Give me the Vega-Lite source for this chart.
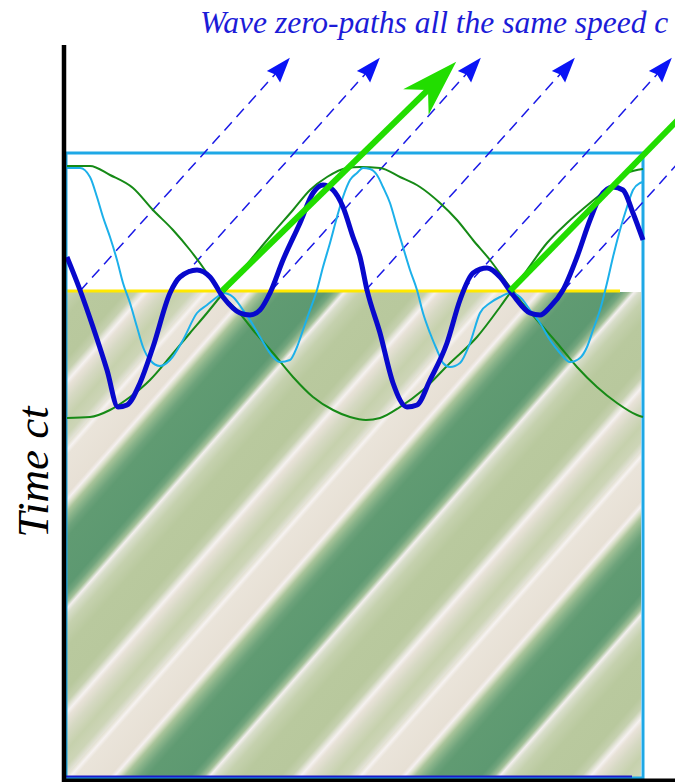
{
  "$schema": "https://vega.github.io/schema/vega-lite/v6.json",
  "width": 575,
  "height": 486,
  "autosize": {"type": "none"},
  "padding": {"left": 66, "top": 292, "right": 34, "bottom": 4},
  "background": "white",
  "config": {"view": {"stroke": null}},
  "datasets": {
    "bands": [
      {"b":1,"t":0,"x":-582,"x2":-290},{"b":1,"t":486,"x":-155.7,"x2":136.3},
      {"b":2,"t":0,"x":-292,"x2":0},{"b":2,"t":486,"x":134.3,"x2":426.3},
      {"b":3,"t":0,"x":-2,"x2":290},{"b":3,"t":486,"x":424.3,"x2":716.3},
      {"b":4,"t":0,"x":288,"x2":580},{"b":4,"t":486,"x":714.3,"x2":1006.3}
    ],
    "blue": [
      {"x":1,"t":521},{"x":14,"t":488},{"x":27,"t":451},{"x":41,"t":408},{"x":52,"t":371},{"x":61,"t":373},
      {"x":74,"t":395},{"x":87,"t":431},{"x":104,"t":485},{"x":114,"t":501},{"x":131,"t":508},{"x":144,"t":501},
      {"x":157,"t":481},{"x":174,"t":465},{"x":184,"t":463},{"x":194,"t":468},{"x":204,"t":485},{"x":217,"t":518},
      {"x":234,"t":555},{"x":247,"t":585},{"x":257,"t":593},{"x":267,"t":588},{"x":277,"t":571},{"x":287,"t":541},
      {"x":294,"t":521},{"x":301,"t":488},{"x":314,"t":445},{"x":327,"t":395},{"x":341,"t":371},{"x":351,"t":373},
      {"x":364,"t":398},{"x":381,"t":435},{"x":394,"t":478},{"x":407,"t":505},{"x":421,"t":510},{"x":434,"t":501},
      {"x":447,"t":483},{"x":464,"t":465},{"x":474,"t":463},{"x":484,"t":471},{"x":497,"t":488},{"x":511,"t":521},
      {"x":524,"t":558},{"x":534,"t":581},{"x":547,"t":591},{"x":557,"t":588},{"x":567,"t":565},{"x":577,"t":538}
    ],
    "cyan": [
      {"x":1,"t":610},{"x":14,"t":610},{"x":24,"t":601},{"x":31,"t":581},{"x":37,"t":561},{"x":44,"t":541},
      {"x":51,"t":518},{"x":57,"t":495},{"x":64,"t":475},{"x":71,"t":451},{"x":77,"t":431},{"x":84,"t":418},
      {"x":94,"t":412},{"x":104,"t":418},{"x":117,"t":438},{"x":131,"t":465},{"x":141,"t":473},{"x":151,"t":481},
      {"x":157,"t":485},{"x":167,"t":481},{"x":177,"t":468},{"x":184,"t":458},{"x":194,"t":441},{"x":207,"t":421},
      {"x":214,"t":416},{"x":224,"t":418},{"x":231,"t":431},{"x":237,"t":448},{"x":244,"t":468},{"x":251,"t":488},
      {"x":257,"t":511},{"x":264,"t":535},{"x":271,"t":561},{"x":277,"t":581},{"x":284,"t":598},{"x":291,"t":605},
      {"x":297,"t":610},{"x":304,"t":609},{"x":311,"t":603},{"x":317,"t":591},{"x":324,"t":575},{"x":331,"t":551},
      {"x":337,"t":531},{"x":344,"t":508},{"x":351,"t":488},{"x":357,"t":465},{"x":364,"t":445},{"x":371,"t":428},
      {"x":377,"t":415},{"x":384,"t":411},{"x":394,"t":415},{"x":404,"t":435},{"x":414,"t":465},{"x":424,"t":475},
      {"x":434,"t":481},{"x":444,"t":485},{"x":454,"t":481},{"x":464,"t":468},{"x":474,"t":455},{"x":484,"t":438},
      {"x":494,"t":425},{"x":504,"t":416},{"x":514,"t":420},{"x":521,"t":431},{"x":527,"t":448},{"x":534,"t":468},
      {"x":541,"t":495},{"x":547,"t":521},{"x":554,"t":548},{"x":561,"t":571},{"x":567,"t":588},{"x":574,"t":595},
      {"x":577,"t":596}
    ],
    "env": [
      {"id":1,"x":1,"t":612},{"id":1,"x":24,"t":612},{"id":1,"x":44,"t":603},{"id":1,"x":67,"t":590},
      {"id":1,"x":87,"t":568},{"id":1,"x":107,"t":548},{"id":1,"x":124,"t":528},{"id":1,"x":141,"t":505},
      {"id":1,"x":154,"t":485},{"id":1,"x":171,"t":468},{"id":1,"x":187,"t":448},{"id":1,"x":207,"t":425},
      {"id":1,"x":227,"t":401},{"id":1,"x":247,"t":381},{"id":1,"x":267,"t":368},{"id":1,"x":284,"t":361},
      {"id":1,"x":300,"t":358},{"id":1,"x":314,"t":360},{"id":1,"x":334,"t":371},{"id":1,"x":357,"t":388},
      {"id":1,"x":384,"t":415},{"id":1,"x":411,"t":441},{"id":1,"x":434,"t":471},{"id":1,"x":444,"t":485},
      {"id":1,"x":461,"t":508},{"id":1,"x":481,"t":535},{"id":1,"x":501,"t":555},{"id":1,"x":524,"t":575},
      {"id":1,"x":544,"t":591},{"id":1,"x":561,"t":605},{"id":1,"x":577,"t":609},
      {"id":2,"x":1,"t":360},{"id":2,"x":24,"t":361},{"id":2,"x":44,"t":368},{"id":2,"x":64,"t":381},
      {"id":2,"x":84,"t":398},{"id":2,"x":104,"t":421},{"id":2,"x":124,"t":445},{"id":2,"x":141,"t":465},
      {"id":2,"x":154,"t":481},{"id":2,"x":171,"t":501},{"id":2,"x":187,"t":521},{"id":2,"x":207,"t":545},
      {"id":2,"x":227,"t":568},{"id":2,"x":244,"t":588},{"id":2,"x":261,"t":601},{"id":2,"x":281,"t":610},
      {"id":2,"x":294,"t":611},{"id":2,"x":314,"t":610},{"id":2,"x":334,"t":601},{"id":2,"x":354,"t":591},
      {"id":2,"x":374,"t":575},{"id":2,"x":391,"t":558},{"id":2,"x":407,"t":538},{"id":2,"x":424,"t":518},
      {"id":2,"x":441,"t":495},{"id":2,"x":454,"t":478},{"id":2,"x":471,"t":458},{"id":2,"x":491,"t":435},
      {"id":2,"x":511,"t":411},{"id":2,"x":531,"t":391},{"id":2,"x":551,"t":375},{"id":2,"x":571,"t":363},
      {"id":2,"x":577,"t":361}
    ],
    "dash": [
      {"id":1,"x":14,"t":487},{"id":1,"x":220,"t":716},
      {"id":2,"x":104,"t":487},{"id":2,"x":310,"t":716},
      {"id":3,"x":205,"t":487},{"id":3,"x":411,"t":716},
      {"id":4,"x":299,"t":487},{"id":4,"x":505,"t":716},
      {"id":5,"x":396,"t":487},{"id":5,"x":602,"t":716},
      {"id":6,"x":497,"t":487},{"id":6,"x":703,"t":716}
    ],
    "heads": [
      {"x":215,"t":710},{"x":305,"t":710},{"x":406,"t":710},{"x":500,"t":710},{"x":597,"t":710}
    ],
    "arrows": [
      {"id":1,"x":156,"t":487},{"id":1,"x":369,"t":695},
      {"id":2,"x":444,"t":487},{"id":2,"x":700,"t":748}
    ]
  },
  "encoding": {
    "x": {"field": "x", "type": "quantitative", "scale": {"domain": [0, 575], "nice": false, "zero": false}, "axis": null},
    "y": {"field": "t", "type": "quantitative", "scale": {"domain": [0, 486], "nice": false, "zero": false}, "axis": null}
  },
  "layer": [
    {
      "data": {"name": "bands"},
      "mark": {"type": "area", "orient": "horizontal", "clip": true, "interpolate": "linear",
        "color": {"gradient": "linear", "x1": 0, "y1": 1, "x2": 0.3006, "y2": 1.1784,
          "stops": [
            {"offset": 0, "color": "#e2e0d0"},
            {"offset": 0.0171, "color": "#f6f2f1"},
            {"offset": 0.0342, "color": "#eae4da"},
            {"offset": 0.1507, "color": "#e7e0d5"},
            {"offset": 0.1678, "color": "#f5f0f0"},
            {"offset": 0.1849, "color": "#d6ddc4"},
            {"offset": 0.2021, "color": "#a9c49a"},
            {"offset": 0.2260, "color": "#8ab48a"},
            {"offset": 0.2534, "color": "#6ea37b"},
            {"offset": 0.2808, "color": "#609b72"},
            {"offset": 0.4281, "color": "#5d9971"},
            {"offset": 0.4521, "color": "#72a57d"},
            {"offset": 0.4760, "color": "#a4c199"},
            {"offset": 0.4932, "color": "#f3efee"},
            {"offset": 0.5103, "color": "#d9decb"},
            {"offset": 0.5479, "color": "#c5d1ae"},
            {"offset": 0.6096, "color": "#b9c99e"},
            {"offset": 0.7363, "color": "#b8c89d"},
            {"offset": 0.7740, "color": "#c6d1b0"},
            {"offset": 0.7911, "color": "#e2e3d6"},
            {"offset": 0.8048, "color": "#f5f1f0"},
            {"offset": 0.8219, "color": "#e8e2d8"},
            {"offset": 0.8630, "color": "#d6d9c3"},
            {"offset": 0.9178, "color": "#c6d1ad"},
            {"offset": 0.9658, "color": "#cdd5b7"},
            {"offset": 0.9863, "color": "#dedfd0"},
            {"offset": 1, "color": "#ebe8e2"}
          ]}},
      "encoding": {
        "x": {"field": "x", "type": "quantitative", "stack": null, "scale": {"domain": [0, 575], "nice": false, "zero": false}, "axis": null},
        "x2": {"field": "x2"},
        "detail": {"field": "b", "type": "nominal"}
      }
    },
    {
      "data": {"values": [{"x": 0, "t": 487}, {"x": 554, "t": 487}]},
      "mark": {"type": "line", "color": "#ffe800", "strokeWidth": 3},
      "encoding": {}
    },
    {
      "data": {"values": [{"x": 0, "x2": 577, "t": 0, "t2": 625}]},
      "mark": {"type": "rect", "filled": false, "stroke": "#1ea8e6", "strokeWidth": 3},
      "encoding": {"x2": {"field": "x2"}, "y2": {"field": "t2"}}
    },
    {
      "data": {"name": "dash"},
      "mark": {"type": "line", "color": "#1a1ae6", "strokeWidth": 1.5, "strokeDash": [11, 7]},
      "encoding": {"detail": {"field": "id", "type": "nominal"}}
    },
    {
      "data": {"name": "env"},
      "mark": {"type": "line", "color": "#168a16", "strokeWidth": 2, "interpolate": "monotone"},
      "encoding": {"detail": {"field": "id", "type": "nominal"}}
    },
    {
      "data": {"name": "cyan"},
      "mark": {"type": "line", "color": "#1cb0ea", "strokeWidth": 2, "interpolate": "monotone"},
      "encoding": {}
    },
    {
      "data": {"name": "blue"},
      "mark": {"type": "line", "color": "#0808cc", "strokeWidth": 5, "interpolate": "monotone"},
      "encoding": {}
    },
    {
      "data": {"name": "arrows"},
      "mark": {"type": "line", "color": "#22dd00", "strokeWidth": 6},
      "encoding": {"detail": {"field": "id", "type": "nominal"}}
    },
    {
      "data": {"name": "heads"},
      "mark": {"type": "point", "shape": "M0,-1L0.65,0.85L0,0.65L-0.65,0.85Z", "size": 729, "angle": 41, "filled": true, "color": "#0a14f5", "opacity": 1, "strokeWidth": 0}
    },
    {
      "data": {"values": [{"x": 369, "t": 695}]},
      "mark": {"type": "point", "shape": "M0,-1L0.6,0.9L0,0.33L-0.6,0.9Z", "size": 3600, "angle": 45, "filled": true, "color": "#22dd00", "opacity": 1, "strokeWidth": 0}
    },
    {
      "data": {"values": [{"x": 0, "x2": 566, "t": 1.5}]},
      "mark": {"type": "rule", "color": "#1a1acc", "strokeWidth": 2},
      "encoding": {"x2": {"field": "x2"}}
    },
    {
      "data": {"values": [{"x": -2, "t": -6, "t2": 733}]},
      "mark": {"type": "rule", "color": "black", "strokeWidth": 4.5},
      "encoding": {"y2": {"field": "t2"}}
    },
    {
      "data": {"values": [{"x": -4, "x2": 620, "t": -2.5}]},
      "mark": {"type": "rule", "color": "black", "strokeWidth": 4},
      "encoding": {"x2": {"field": "x2"}}
    },
    {
      "data": {"values": [{"x": 134, "t": 745, "label": "Wave zero-paths all the same speed c"}]},
      "mark": {"type": "text", "align": "left", "baseline": "alphabetic", "font": "Liberation Serif", "fontStyle": "italic", "fontSize": 31.5, "color": "#1c1cd8"},
      "encoding": {"text": {"field": "label"}}
    },
    {
      "data": {"values": [{"x": -18, "t": 306, "label": "Time ct"}]},
      "mark": {"type": "text", "align": "center", "baseline": "alphabetic", "angle": 270, "font": "Liberation Serif", "fontStyle": "italic", "fontSize": 45, "color": "black"},
      "encoding": {"text": {"field": "label"}}
    }
  ]
}
